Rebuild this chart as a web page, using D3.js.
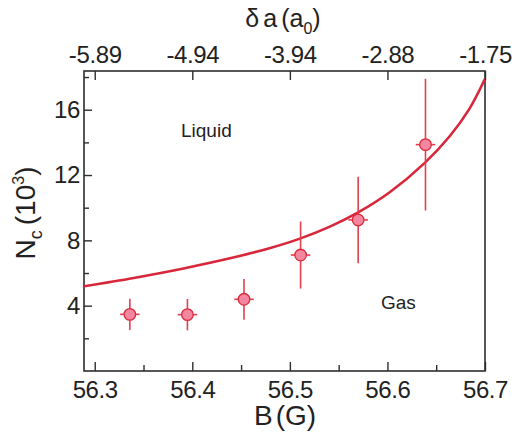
<!DOCTYPE html>
<html>
<head>
<meta charset="utf-8">
<script src="https://cdn.jsdelivr.net/npm/d3@7"></script>
<style>
  html, body { margin: 0; padding: 0; background: #fff; }
  svg { display: block; font-family: "Liberation Sans", Arial, sans-serif; }
</style>
</head>
<body>
<svg id="chart" width="515" height="434"></svg>
<script>
// Measured critical atom numbers vs. magnetic field
const fieldB   = [56.336, 56.395, 56.453, 56.511, 56.570, 56.639];
const numberNc = [3.47, 3.45, 4.39, 7.10, 9.25, 13.86];
const errNc    = [0.96, 0.96, 1.25, 2.05, 2.65, 4.03];
const errB     = [0.010, 0.010, 0.010, 0.010, 0.010, 0.010];

// Theory curve for the liquid-gas boundary
const curveB  = [56.289, 56.340, 56.391, 56.443, 56.480, 56.511, 56.541, 56.570, 56.602, 56.638, 56.664, 56.684, 56.700];
const curveNc = [5.19, 5.70, 6.28, 6.96, 7.53, 8.12, 8.84, 9.71, 10.93, 12.73, 14.39, 16.05, 17.89];

// Axis ticks
const bMajor = [56.3, 56.4, 56.5, 56.6, 56.7];
const bMinor = [56.35, 56.45, 56.55, 56.65];
const nMajor = [4, 8, 12, 16];
const nMinor = [2, 6, 10, 14, 18];
// Top axis: scattering length shift at the same field positions
const topTickB      = [56.3, 56.4, 56.5, 56.6, 56.7];
const topTickLabels = ["-5.89", "-4.94", "-3.94", "-2.88", "-1.75"];

const svg = d3.select("#chart");
const mLeft = 84, mRight = 485, mTop = 71, mBottom = 371;

const x = d3.scaleLinear().domain([56.289, 56.7]).range([mLeft, mRight]);
const y = d3.scaleLinear().domain([0, 18.37]).range([mBottom, mTop]);

const axisColor = "#2e2e2e";
const red = "#d8263a";

function styleAxis(g) {
  g.selectAll(".domain").remove();
  g.selectAll(".tick line").attr("stroke", axisColor).attr("stroke-width", 1.4);
  g.selectAll(".tick text").attr("fill", "#222").attr("font-size", 24)
    .attr("letter-spacing", -0.4)
    .attr("font-family", "'Liberation Sans', Arial, sans-serif");
}

// Bottom axis
svg.append("g").attr("transform", `translate(0,${mBottom})`)
  .call(d3.axisBottom(x).tickValues(bMajor).tickSize(-9).tickPadding(10).tickFormat(d3.format(".1f")))
  .call(styleAxis);
svg.append("g").attr("transform", `translate(0,${mBottom})`)
  .call(d3.axisBottom(x).tickValues(bMinor).tickSize(-6).tickFormat(""))
  .call(styleAxis);

// Top axis
const topLabel = new Map(topTickB.map((b, i) => [b, topTickLabels[i]]));
svg.append("g").attr("transform", `translate(0,${mTop})`)
  .call(d3.axisTop(x).tickValues(topTickB).tickSize(-9).tickPadding(8).tickFormat(d => topLabel.get(d)))
  .call(styleAxis);

// Left axis
svg.append("g").attr("transform", `translate(${mLeft},0)`)
  .call(d3.axisLeft(y).tickValues(nMajor).tickSize(-8).tickPadding(4).tickFormat(d3.format("d")))
  .call(styleAxis);
svg.append("g").attr("transform", `translate(${mLeft},0)`)
  .call(d3.axisLeft(y).tickValues(nMinor).tickSize(-5).tickFormat(""))
  .call(styleAxis);

// Frame
svg.append("rect")
  .attr("x", mLeft).attr("y", mTop)
  .attr("width", mRight - mLeft).attr("height", mBottom - mTop)
  .attr("fill", "none").attr("stroke", axisColor).attr("stroke-width", 1.6);

// Theory curve
const plot = svg.append("g");
plot.append("clipPath").attr("id", "clip")
  .append("rect").attr("x", mLeft).attr("y", mTop).attr("width", mRight - mLeft).attr("height", mBottom - mTop);

const line = d3.line()
  .x((d, i) => x(curveB[i]))
  .y((d, i) => y(curveNc[i]))
  .curve(d3.curveCatmullRom.alpha(0.5));
plot.append("path")
  .datum(curveNc)
  .attr("clip-path", "url(#clip)")
  .attr("d", line)
  .attr("fill", "none")
  .attr("stroke", red)
  .attr("stroke-width", 2.6);

// Data points with error bars
const pts = fieldB.map((b, i) => ({ b, n: numberNc[i], en: errNc[i], eb: errB[i] }));
const pg = plot.selectAll("g.pt").data(pts).join("g").attr("class", "pt");
pg.append("line")
  .attr("x1", d => x(d.b)).attr("x2", d => x(d.b))
  .attr("y1", d => y(d.n - d.en)).attr("y2", d => y(d.n + d.en))
  .attr("stroke", "#e2404f").attr("stroke-width", 1.6);
pg.append("line")
  .attr("x1", d => x(d.b - d.eb)).attr("x2", d => x(d.b + d.eb))
  .attr("y1", d => y(d.n)).attr("y2", d => y(d.n))
  .attr("stroke", "#e2404f").attr("stroke-width", 1.6);
pg.append("circle")
  .attr("cx", d => x(d.b)).attr("cy", d => y(d.n))
  .attr("r", 5.8)
  .attr("fill", "#f2879f")
  .attr("stroke", "#d92a3c")
  .attr("stroke-width", 1.3);

// Region labels
svg.append("text").attr("x", 181).attr("y", 137).attr("font-size", 19)
  .attr("fill", "#222").text("Liquid");
svg.append("text").attr("x", 381).attr("y", 309).attr("font-size", 19)
  .attr("fill", "#222").text("Gas");

// Axis titles
const bt = svg.append("text").attr("x", 285).attr("y", 425)
  .attr("text-anchor", "middle").attr("font-size", 28).attr("fill", "#222");
bt.append("tspan").text("B");
bt.append("tspan").attr("dx", 3).text("(G)");

const tt = svg.append("text").attr("x", 283).attr("y", 27)
  .attr("text-anchor", "middle").attr("font-size", 25).attr("fill", "#222");
tt.append("tspan").text("δ");
tt.append("tspan").attr("dx", 4).text("a");
tt.append("tspan").attr("dx", 4).text("(a");
tt.append("tspan").attr("font-size", 16).attr("dy", 7).text("0");
tt.append("tspan").attr("dy", -7).text(")");

const yt = svg.append("text")
  .attr("transform", "translate(35,213) rotate(-90)")
  .attr("text-anchor", "middle").attr("font-size", 28).attr("fill", "#222");
yt.append("tspan").text("N");
yt.append("tspan").attr("font-size", 18).attr("dy", 7).text("c");
yt.append("tspan").attr("dy", -7).attr("dx", 5).text("(10");
yt.append("tspan").attr("font-size", 16).attr("dy", -11).text("3");
yt.append("tspan").attr("dy", 11).text(")");
</script>
</body>
</html>
